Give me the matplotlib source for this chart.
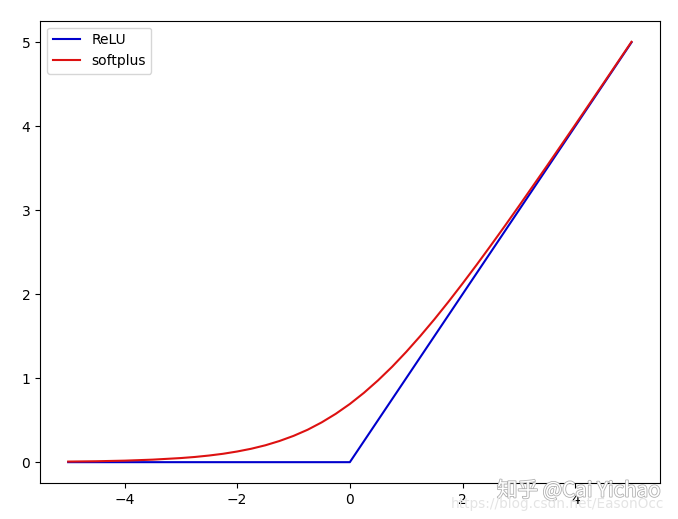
import matplotlib.pyplot as plt
import matplotlib.patheffects as pe

plt.rcParams['font.family'] = ['DejaVu Sans', 'Noto Sans CJK SC']

relu_x = [-5, 0, 5]
relu_y = [0, 0, 5]

softplus_x = [-5, -4.5, -4, -3.5, -3, -2.75, -2.5, -2.25, -2, -1.75, -1.5, -1.25,
              -1, -0.75, -0.5, -0.25, 0, 0.25, 0.5, 0.75, 1, 1.25, 1.5, 1.75,
              2, 2.25, 2.5, 2.75, 3, 3.5, 4, 4.5, 5]
softplus_y = [0.007, 0.011, 0.018, 0.030, 0.049, 0.062, 0.079, 0.100, 0.127, 0.160,
              0.201, 0.252, 0.313, 0.386, 0.474, 0.576, 0.693, 0.826, 0.974, 1.136,
              1.313, 1.502, 1.701, 1.910, 2.127, 2.350, 2.579, 2.812, 3.049, 3.530,
              4.018, 4.511, 5.007]

fig = plt.figure(figsize=(6.78, 5.19), dpi=100)
ax = fig.add_axes([0.059, 0.069, 0.914, 0.891])
ax.plot(relu_x, relu_y, color='#0000cc', label='ReLU')
ax.plot(softplus_x, softplus_y, color='#dd1111', label='softplus')
ax.legend(loc='upper left')

# watermarks
fig.text(0.733, 0.043, '知乎 @Cai Yichao', fontsize=14.8, color='white',
         family=['Noto Sans CJK SC', 'DejaVu Sans'],
         path_effects=[pe.withStroke(linewidth=1.2, foreground='#b0b0b0')])
fig.text(0.665, 0.022, 'https://blog.csdn.net/EasonOcc', fontsize=9.8, color='#e4e4e4')

fig.savefig('out.png', dpi=100)
